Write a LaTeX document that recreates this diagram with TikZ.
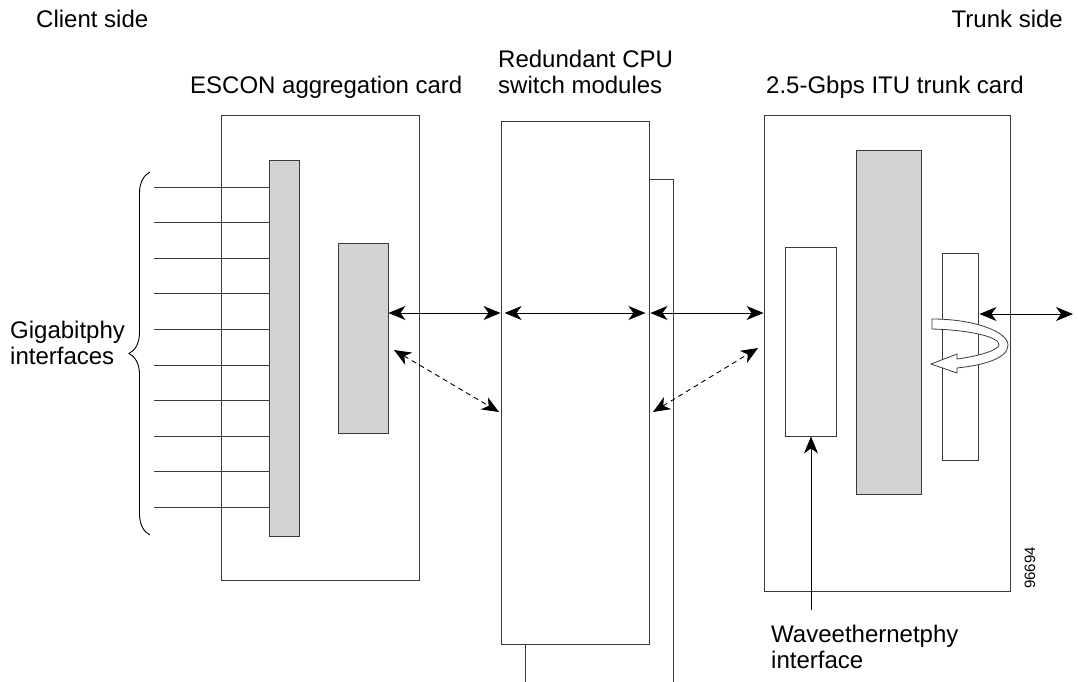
\documentclass[tikz,border=0pt]{standalone}
\usepackage{fontspec}
\setmainfont{Liberation Sans}
\usetikzlibrary{arrows.meta,decorations.pathreplacing}
\definecolor{ln}{HTML}{3A3A3A}
\definecolor{gfill}{HTML}{D3D3D5}
\begin{document}
\begin{tikzpicture}[x=1pt,y=-1pt,
  lbl/.style={inner sep=0pt,font=\fontsize{24}{26}\selectfont},
  card/.style={draw=ln,line width=0.9pt,fill=white,inner sep=0pt},
  chip/.style={draw=ln,line width=0.9pt,fill=gfill,inner sep=0pt},
  wchip/.style={draw=ln,line width=0.9pt,fill=white,inner sep=0pt},
  link/.style={line width=0.9pt,draw=black,{Stealth[length=17pt,width=14pt,inset=5pt]}-{Stealth[length=17pt,width=14pt,inset=5pt]}},
  dlink/.style={link,dash pattern=on 5pt off 4pt},
  wire/.style={draw=ln,line width=0.9pt}]
\useasboundingbox (0,0) rectangle (1078,682);
\begin{scope}
\clip (0,0) rectangle (1078,682);

% labels
\node[lbl,anchor=base west] (client) at (36,28) {Client side};
\node[lbl,anchor=base east] (trunkside) at (1063,28) {Trunk side};
\node[lbl,anchor=base west] (escl) at (190,94) {ESCON aggregation card};
\node[lbl,anchor=base west,align=left] (cpul) at (498,94) {Redundant CPU\\switch modules};
\node[lbl,anchor=base west] (trkl) at (766,94) {2.5-Gbps ITU trunk card};
\node[lbl,anchor=west,align=left] (gig) at (10,343) {Gigabitphy\\interfaces};
\node[lbl,anchor=west,align=left] (wave) at (771,647) {Waveethernetphy\\interface};
\node[inner sep=0pt,font=\fontsize{15}{18}\selectfont,rotate=90] (num) at (1030,568) {96694};

% ESCON card
\node[card,minimum width=198pt,minimum height=465pt] (esc) at (320,347.5) {};
\node[chip,minimum width=30pt,minimum height=376pt] (bus) at (284,348) {};
\node[chip,minimum width=50pt,minimum height=190pt] (escchip) at (363,338) {};

% client wires
\foreach \i in {0,...,9} {
  \coordinate (w\i) at (154,{187+\i*35.6});
  \draw[wire] (w\i) -- (w\i -| bus.west);
}
\coordinate (bt) at (150,172);
\coordinate (bb) at (150,535);
\draw[draw=black,line width=0.9pt,decorate,decoration={brace,amplitude=21pt,mirror,aspect=0.5}] (bt) -- (bb);

% CPU modules
\node[card,minimum width=148pt,minimum height=560pt] (cpub) at (599,459) {};
\node[card,minimum width=148pt,minimum height=523pt] (cpuf) at (575,382.5) {};

% trunk card
\node[card,minimum width=246pt,minimum height=476pt] (trk) at (887,353) {};
\node[wchip,minimum width=51pt,minimum height=189pt] (wave chip) at (810.5,341.5) {};
\node[chip,minimum width=65pt,minimum height=344pt] (trkchip) at (888.5,322) {};
\node[wchip,minimum width=36pt,minimum height=207pt] (optic) at (960,356.5) {};

% loop-back hollow arrow
\draw[draw=ln,line width=0.8pt,fill=white]
  (932,319) .. controls (975,319) and (1008,332) .. (1008,345)
  .. controls (1008,358) and (985,365) .. (957,368)
  -- (957,373) -- (931,364) -- (957,354) -- (957,359)
  .. controls (980,356) and (998,350) .. (999,345)
  .. controls (1000,337) and (970,330) .. (932,329) -- cycle;

% connections
\coordinate (ext) at (1073,314);
\draw[link] (escchip.east |- 0,313) -- (cpuf.west |- 0,313);
\draw[link] (cpuf.west |- 0,313) ++(4,0) -- ([xshift=-4pt]cpuf.east |- 0,313);
\draw[link] ([xshift=1pt]cpuf.east |- 0,313) -- (trk.west |- 0,313);
\draw[link] ([xshift=1pt]optic.east |- 0,314) -- (ext);
\draw[dlink] (394,350) -- (499,412);
\draw[dlink] (653,412) -- (758,348);
\coordinate (wavefoot) at (811,610);
\draw[line width=0.9pt,-{Stealth[length=17pt,width=14pt,inset=5pt]}] (wavefoot) -- (wavefoot |- wave chip.south);
\end{scope}
\end{tikzpicture}
\end{document}
